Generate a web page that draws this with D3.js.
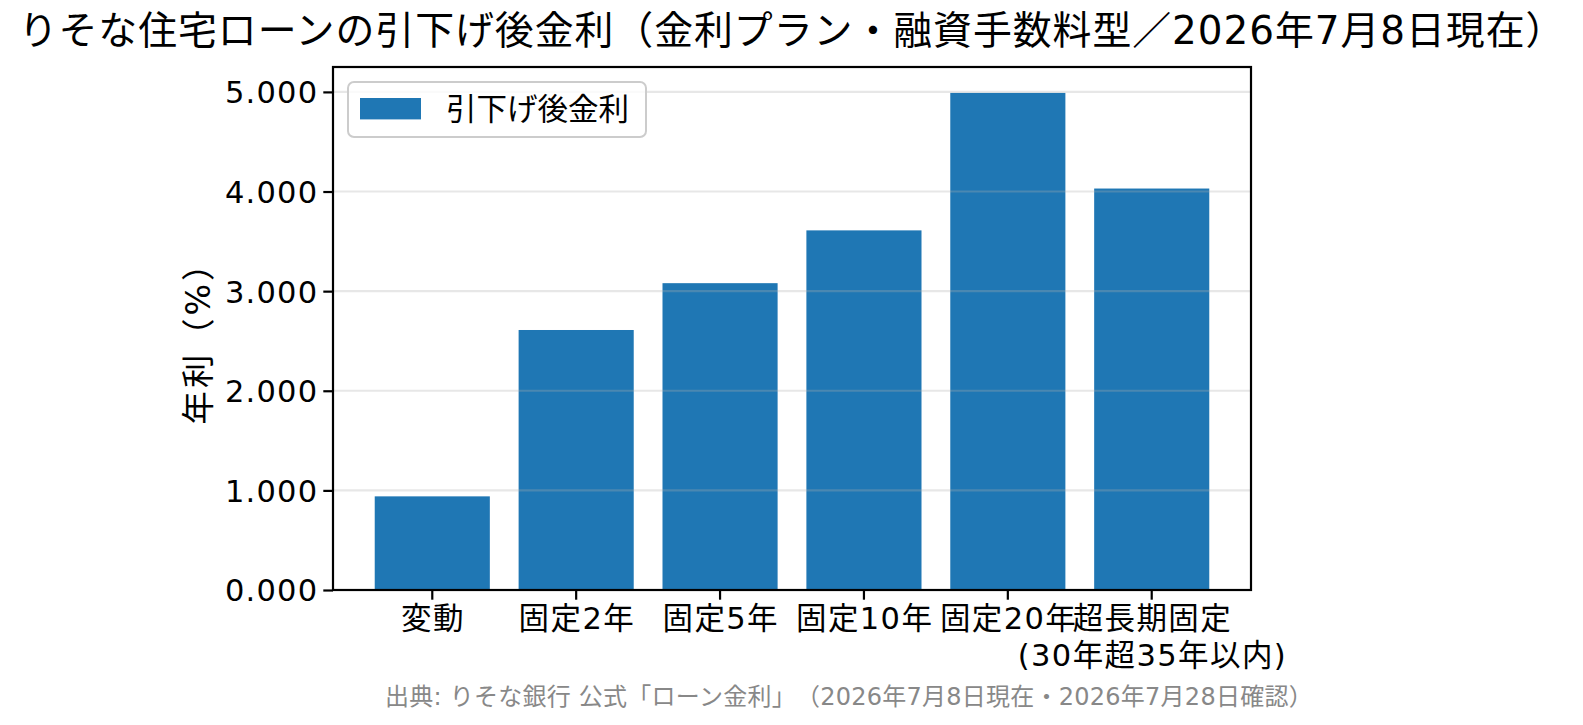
<!DOCTYPE html>
<html>
<head>
<meta charset="utf-8">
<script src="https://cdn.jsdelivr.net/npm/d3@7"></script>
<style>
  body { margin: 0; background: #fff; }
  text { font-family: "DejaVu Sans", "Noto Sans CJK JP", sans-serif; text-spacing-trim: space-all; }
</style>
</head>
<body>
<script>
// Data
const categories = ['変動', '固定2年', '固定5年', '固定10年', '固定20年', '超長期固定\n(30年超35年以内)'];
const rates = [0.94, 2.61, 3.08, 3.61, 4.99, 4.03];
const yTicks = [0, 1, 2, 3, 4, 5];
const seriesName = '引下げ後金利';
const titleText = 'りそな住宅ローンの引下げ後金利（金利プラン・融資手数料型／2026年7月8日現在）';
const yLabel = '年利（%）';
const sourceText = '出典: りそな銀行 公式「ローン金利」（2026年7月8日現在・2026年7月28日確認）';

// Frame
var W = 1583, H = 725;
var margin = {top: 67, right: 332, bottom: 135, left: 333};
var width = W - margin.left - margin.right;
var height = H - margin.top - margin.bottom;

var root = d3.select("body").append('svg')
             .attr('width', W)
             .attr('height', H);

var svg = root.append('g')
              .attr('transform', `translate(${margin.left}, ${margin.top})`);

// Scales
var x = d3.scaleBand()
          .domain(categories)
          .range([0, width])
          .paddingInner(0.2)
          .paddingOuter(0.29);
var y = d3.scaleLinear()
          .domain([0, 5.25])
          .range([height, 0]);

// Bars
svg.selectAll('rect.bar')
   .data(rates)
   .enter().append('rect')
   .attr('class', 'bar')
   .attr('x', (d, i) => x(categories[i]))
   .attr('width', x.bandwidth())
   .attr('y', d => y(d))
   .attr('height', d => y(0) - y(d))
   .attr('fill', '#1f77b4');

// Grid on top of the bars, faint
svg.append('g')
   .selectAll('line')
   .data(yTicks)
   .enter().append('line')
   .attr('x1', 0).attr('x2', width)
   .attr('y1', d => y(d)).attr('y2', d => y(d))
   .attr('stroke', '#b0b0b0')
   .attr('stroke-opacity', 0.3)
   .attr('stroke-width', 2.2);

// Axes
const axeX = d3.axisBottom(x).tickSize(9.7).tickSizeOuter(0).tickPadding(9.7);
const groupeX = svg.append('g')
                   .attr('transform', `translate(0, ${height})`)
                   .call(axeX);
groupeX.select('.domain').remove();
groupeX.selectAll('line').attr('stroke', '#000').attr('stroke-width', 2.2);
groupeX.selectAll('text')
       .attr('font-size', '30.5px')
       .attr('letter-spacing', '1.4px')
       .attr('fill', '#000')
       .attr('y', null).attr('dy', null)
       .each(function(d) {
         var t = d3.select(this);
         var lines = d.split('\n');
         t.text(null);
         lines.forEach((s, k) => {
           t.append('tspan').attr('x', 0.7).attr('y', 39 + k * 36.7).text(s);
         });
       });

const axeY = d3.axisLeft(y).tickValues(yTicks).tickFormat(d3.format('.3f'))
               .tickSize(9.7).tickSizeOuter(0).tickPadding(5);
const groupeY = svg.append('g').call(axeY);
groupeY.select('.domain').remove();
groupeY.selectAll('line').attr('stroke', '#000').attr('stroke-width', 2.2);
groupeY.selectAll('text')
       .attr('font-size', '30.5px')
       .attr('letter-spacing', '1.2px')
       .attr('fill', '#000')
       .attr('dy', '0.36em');

// Spines
svg.append('rect')
   .attr('width', width).attr('height', height)
   .attr('fill', 'none')
   .attr('stroke', '#000')
   .attr('stroke-width', 2.2);

// Legend
var legend = svg.append('g').attr('transform', 'translate(15, 15)');
legend.append('rect')
      .attr('width', 298).attr('height', 55)
      .attr('rx', 6)
      .attr('fill', '#fff').attr('fill-opacity', 0.8)
      .attr('stroke', '#cccccc').attr('stroke-width', 2);
legend.append('rect')
      .attr('x', 12).attr('y', 16)
      .attr('width', 61).attr('height', 21.4)
      .attr('fill', '#1f77b4');
legend.append('text')
      .attr('x', 98).attr('y', 38)
      .attr('font-size', '30.5px')
      .text(seriesName);

// Y label
root.append('text')
    .attr('transform', `translate(210, ${margin.top + height / 2 + 6}) rotate(-90)`)
    .attr('text-anchor', 'middle')
    .attr('font-size', '33.3px')
    .attr('letter-spacing', '3px')
    .text(yLabel);

// Title
root.append('text')
    .attr('x', margin.left + width / 2)
    .attr('y', 44)
    .attr('text-anchor', 'middle')
    .attr('font-size', '38.9px')
    .attr('letter-spacing', '0.95px')
    .text(titleText);

// Source note
root.append('text')
    .attr('x', 385)
    .attr('y', 705)
    .attr('font-size', '24px')
    .attr('letter-spacing', '0.25px')
    .attr('fill', '#888')
    .text(sourceText);
</script>
</body>
</html>
